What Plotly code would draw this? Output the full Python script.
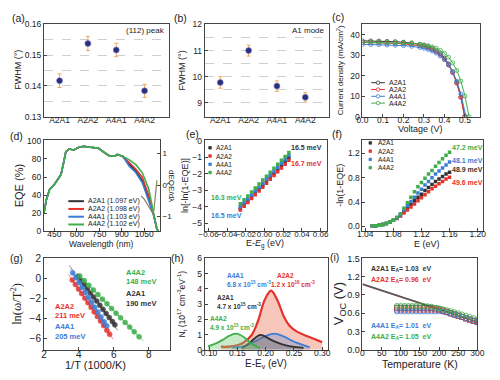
import plotly.graph_objects as go

W, H = 500, 380
def X(px): return px / W
def Y(py): return 1 - py / H

samples = ["A2A1", "A2A2", "A4A1", "A4A2"]
c_black, c_red, c_blue, c_green = "#333333", "#e5322d", "#3b7dd8", "#3dae4a"
scol = [c_black, c_red, c_blue, c_green]

# (a) XRD (112) peak FWHM
xrd_fwhm = [0.1417, 0.1538, 0.1517, 0.1384]
xrd_err = [0.0022, 0.0023, 0.0022, 0.0021]
# (b) Raman A1 mode FWHM
raman_fwhm = [9.78, 11.00, 9.64, 9.21]
raman_err = [0.22, 0.21, 0.20, 0.18]

# (c) J-V curves
jv_v = {
    "A2A1": [0, 0.04, 0.08, 0.12, 0.16, 0.20, 0.24, 0.28, 0.30, 0.32, 0.34, 0.36, 0.38, 0.40, 0.42, 0.44, 0.46, 0.48, 0.50],
    "A2A2": [0, 0.04, 0.08, 0.12, 0.16, 0.20, 0.24, 0.28, 0.30, 0.32, 0.34, 0.36, 0.38, 0.40, 0.42, 0.44, 0.46, 0.48, 0.498],
    "A4A1": [0, 0.04, 0.08, 0.12, 0.16, 0.20, 0.24, 0.28, 0.30, 0.32, 0.34, 0.36, 0.38, 0.40, 0.42, 0.44, 0.46, 0.48, 0.505],
    "A4A2": [0, 0.04, 0.08, 0.12, 0.16, 0.20, 0.24, 0.28, 0.30, 0.32, 0.34, 0.36, 0.38, 0.40, 0.42, 0.44, 0.46, 0.48, 0.50, 0.52],
}
jv_j = {
    "A2A1": [37.0, 36.94, 36.88, 36.71, 36.58, 36.33, 35.98, 35.34, 34.87, 34.22, 33.39, 32.23, 30.67, 28.57, 25.75, 21.91, 16.70, 9.61, 0],
    "A2A2": [36.2, 36.14, 36.08, 35.91, 35.78, 35.54, 35.19, 34.56, 34.11, 33.47, 32.66, 31.52, 30.00, 27.95, 25.18, 21.43, 16.33, 9.40, 0],
    "A4A1": [35.3, 35.24, 35.18, 35.01, 34.88, 34.69, 34.35, 33.80, 33.35, 32.80, 32.04, 31.04, 29.66, 27.79, 25.31, 21.89, 17.31, 11.07, 0],
    "A4A2": [36.4, 36.34, 36.28, 36.22, 36.09, 35.92, 35.72, 35.33, 35.01, 34.63, 34.10, 33.39, 32.35, 30.97, 29.03, 26.30, 22.57, 17.38, 10.09, 0],
}

# (d) EQE spectra
eqe_wl = [380, 396, 417, 450, 483, 494, 510, 526, 548, 580, 613, 646, 689, 743, 776, 820, 852, 870, 885, 906, 950, 993, 1037, 1080, 1113, 1135, 1146]
eqe_common = [20, 35, 46, 52, 60, 63, 75, 88, 91, 90, 93, 94, 93, 92, 88, 83, 83, 85, 84, 83]
eqe_tail = {
    "A2A1": [74, 67, 56, 36, 18, 2, 0],
    "A2A2": [76, 69, 60, 40, 19, 3, 0],
    "A4A1": [72, 65, 54, 33, 18, 2, 0],
    "A4A2": [79, 74, 65, 47, 20, 3, 0],
}
eg_labels = ["A2A1 (1.097 eV)", "A2A2 (1.098 eV)", "A4A1 (1.103 eV)", "A4A2 (1.102 eV)"]
deriv_wl = [1030, 1050, 1070, 1090, 1105, 1115, 1125, 1135]
deriv_val = [-0.35, -0.45, -0.60, -0.75, -0.88, -0.80, -0.30, 0.15]

# (e) Urbach plot
urb_x = [-0.026, -0.022, -0.018, -0.014, -0.010, -0.006, -0.002, 0.002, 0.006, 0.010, 0.014, 0.018, 0.022, 0.026]
urb_y = {
    "A2A1": [-4.09, -3.85, -3.62, -3.38, -3.15, -2.91, -2.68, -2.44, -2.21, -1.97, -1.74, -1.50, -1.27, -1.03],
    "A2A2": [-4.19, -3.96, -3.73, -3.49, -3.26, -3.03, -2.80, -2.57, -2.33, -2.10, -1.87, -1.64, -1.41, -1.18],
    "A4A1": [-3.99, -3.75, -3.51, -3.28, -3.04, -2.80, -2.56, -2.32, -2.09, -1.85, -1.61, -1.37, -1.13, -0.89],
    "A4A2": [-3.80, -3.56, -3.33, -3.09, -2.85, -2.61, -2.37, -2.14, -1.90, -1.66, -1.42, -1.18, -0.94, -0.70],
}

# (f) -ln(1-EQE)
abs_e = [1.050, 1.055, 1.060, 1.065, 1.070, 1.075, 1.080, 1.085, 1.090, 1.095, 1.100, 1.105, 1.110,
         1.115, 1.120, 1.125, 1.130, 1.135, 1.140, 1.145, 1.150, 1.155, 1.160]
abs_y = {
    "A2A1": [0.01, 0.01, 0.02, 0.03, 0.05, 0.07, 0.10, 0.14, 0.18, 0.24, 0.30, 0.36, 0.42, 0.48, 0.53, 0.59, 0.64, 0.69, 0.74, 0.78, 0.82, 0.86, 0.89],
    "A2A2": [0.01, 0.01, 0.02, 0.03, 0.05, 0.07, 0.10, 0.13, 0.17, 0.22, 0.27, 0.32, 0.37, 0.42, 0.47, 0.52, 0.57, 0.62, 0.66, 0.70, 0.74, 0.78, 0.81],
    "A4A1": [0.01, 0.01, 0.02, 0.03, 0.05, 0.07, 0.10, 0.14, 0.19, 0.27, 0.34, 0.41, 0.48, 0.55, 0.61, 0.68, 0.74, 0.80, 0.86, 0.91, 0.96, 1.01, 1.06],
    "A4A2": [0.01, 0.01, 0.02, 0.03, 0.05, 0.07, 0.10, 0.15, 0.21, 0.30, 0.39, 0.48, 0.57, 0.65, 0.72, 0.79, 0.86, 0.92, 0.99, 1.05, 1.11, 1.17, 1.22],
}

# (g) Arrhenius plot of admittance
arr_x = {
    "A2A1": [3.94, 4.12, 4.30, 4.48, 4.66, 4.84, 5.02, 5.20, 5.38, 5.56, 5.74, 5.92, 6.06],
    "A2A2": [3.62, 3.80, 3.98, 4.16, 4.34, 4.52, 4.70, 4.88, 5.06, 5.24, 5.42, 5.60, 5.76],
    "A4A1": [3.65, 3.83, 4.01, 4.19, 4.37, 4.55, 4.73, 4.91, 5.09, 5.27, 5.45, 5.60],
    "A4A2": [4.05, 4.31, 4.57, 4.83, 5.09, 5.35, 5.61, 5.87, 6.13, 6.39, 6.65, 6.91, 7.17, 7.45],
}
arr_y = {
    "A2A1": [0.20, -0.21, -0.62, -1.04, -1.45, -1.86, -2.27, -2.68, -3.10, -3.51, -3.92, -4.33, -4.65],
    "A2A2": [-0.15, -0.61, -1.07, -1.52, -1.98, -2.44, -2.90, -3.36, -3.81, -4.27, -4.73, -5.19, -5.60],
    "A4A1": [0.55, 0.06, -0.43, -0.92, -1.41, -1.90, -2.39, -2.88, -3.37, -3.86, -4.35, -4.75],
    "A4A2": [0.25, -0.22, -0.68, -1.15, -1.62, -2.08, -2.55, -3.01, -3.48, -3.95, -4.41, -4.88, -5.35, -5.85],
}
fit_x = {"A2A1": [3.45, 6.50], "A2A2": [3.40, 5.95], "A4A1": [3.50, 5.80], "A4A2": [3.90, 7.70]}
fit_y = {"A2A1": [1.30, -5.87], "A2A2": [0.41, -6.08], "A4A1": [0.96, -5.30], "A4A2": [0.52, -6.30]}

# (h) defect density of states
dos_x = {
    "A2A2": [0.121, 0.140, 0.160, 0.1754, 0.187, 0.198, 0.2097, 0.221, 0.2326, 0.244, 0.2554, 0.2726, 0.290, 0.300],
    "A4A1": [0.141, 0.164, 0.181, 0.198, 0.2154, 0.2326, 0.2497, 0.2669, 0.278],
    "A2A1": [0.158, 0.1697, 0.181, 0.190, 0.198, 0.2097, 0.2269, 0.244, 0.267],
    "A4A2": [0.098, 0.1126, 0.124, 0.1354, 0.147, 0.1554, 0.164, 0.1754, 0.190],
}
dos_y = {
    "A2A2": [0.20, 0.22, 0.45, 0.97, 1.94, 3.24, 3.89, 3.24, 2.16, 1.51, 1.19, 0.90, 0.65, 0.50],
    "A4A1": [0.15, 0.26, 0.54, 0.86, 1.06, 0.86, 0.54, 0.30, 0.17],
    "A2A1": [0.10, 0.39, 0.76, 0.97, 0.90, 0.65, 0.39, 0.22, 0.13],
    "A4A2": [0.22, 0.43, 0.65, 0.91, 1.06, 0.97, 0.76, 0.39, 0.11],
}
dos_fill = {"A2A2": "rgba(240,130,105,0.45)", "A4A1": "rgba(110,150,210,0.40)",
            "A2A1": "rgba(110,110,110,0.40)", "A4A2": "rgba(120,200,120,0.40)"}

# (i) Voc vs temperature
temp = [90, 100, 110, 120, 130, 140, 150, 160, 170, 180, 190, 200, 210, 220, 230, 240, 250, 260, 270, 280, 290, 300]
voc = {
    "A2A1": [0.69, 0.69, 0.69, 0.69, 0.69, 0.69, 0.69, 0.69, 0.69, 0.69, 0.68, 0.665, 0.645, 0.625, 0.60, 0.58, 0.56, 0.54, 0.515, 0.495, 0.475, 0.455],
    "A2A2": [0.66, 0.66, 0.66, 0.66, 0.66, 0.66, 0.66, 0.66, 0.66, 0.66, 0.66, 0.655, 0.64, 0.62, 0.60, 0.58, 0.56, 0.54, 0.515, 0.495, 0.475, 0.46],
    "A4A1": [0.63, 0.63, 0.63, 0.63, 0.63, 0.63, 0.63, 0.63, 0.63, 0.63, 0.63, 0.63, 0.625, 0.61, 0.595, 0.575, 0.56, 0.54, 0.52, 0.50, 0.48, 0.465],
    "A4A2": [0.72, 0.72, 0.72, 0.72, 0.72, 0.72, 0.72, 0.72, 0.715, 0.705, 0.69, 0.68, 0.665, 0.65, 0.635, 0.615, 0.60, 0.58, 0.56, 0.54, 0.52, 0.50],
}
voc_fit_t = [0, 300]
voc_fit = {"A2A2": [1.07, 0.46], "A2A1": [1.08, 0.455]}
ea_labels = ["A2A1 E<sub>A</sub>= 1.03  eV", "A2A2 E<sub>A</sub>= 0.96  eV",
             "A4A1 E<sub>A</sub>= 1.01  eV", "A4A2 E<sub>A</sub>= 1.05  eV"]

FONT = "Liberation Sans, Arial, sans-serif"
fig = go.Figure()

# ---- traces
fig.add_trace(go.Scatter(x=samples, y=xrd_fwhm, mode="markers", xaxis="x", yaxis="y",
                         marker=dict(color="#2b2d7e", size=6, line=dict(color="#7f83c9", width=0.6)),
                         error_y=dict(type="data", array=xrd_err, color="#f2a55a", thickness=1, width=2)))
fig.add_trace(go.Scatter(x=samples, y=raman_fwhm, mode="markers", xaxis="x2", yaxis="y2",
                         marker=dict(color="#2b2d7e", size=6, line=dict(color="#7f83c9", width=0.6)),
                         error_y=dict(type="data", array=raman_err, color="#f2a55a", thickness=1, width=2)))

for s, c in zip(samples, scol):
    fig.add_trace(go.Scatter(x=jv_v[s], y=jv_j[s], mode="lines+markers", xaxis="x3", yaxis="y3",
                             line=dict(color=c, width=1),
                             marker=dict(symbol="circle-open", size=4, color=c, line=dict(width=0.8))))

for s, c in zip(samples, scol):
    fig.add_trace(go.Scatter(x=eqe_wl, y=eqe_common + eqe_tail[s], mode="lines", xaxis="x4", yaxis="y4",
                             line=dict(color=c, width=1.6)))
fig.add_trace(go.Scatter(x=deriv_wl, y=deriv_val, mode="lines", xaxis="x4", yaxis="y10",
                         line=dict(color="#8c7f5c", width=1.2)))

for s, c in zip(samples, scol):
    fig.add_trace(go.Scatter(x=urb_x, y=urb_y[s], mode="markers", xaxis="x5", yaxis="y5",
                             marker=dict(color=c, size=3.5, symbol="square")))

for s, c in zip(samples, scol):
    fig.add_trace(go.Scatter(x=abs_e, y=abs_y[s], mode="markers", xaxis="x6", yaxis="y6",
                             marker=dict(color=c, size=3.5, symbol="square")))

for s, c in zip(samples, scol):
    fig.add_trace(go.Scatter(x=fit_x[s], y=fit_y[s], mode="lines", xaxis="x7", yaxis="y7",
                             line=dict(color=c, width=0.8, dash="dash"), opacity=0.7))
for s, c in zip(samples, scol):
    fig.add_trace(go.Scatter(x=arr_x[s], y=arr_y[s], mode="lines+markers", xaxis="x7", yaxis="y7",
                             line=dict(color=c, width=1),
                             marker=dict(color=c, size=5, opacity=0.85, line=dict(color=c, width=0.6))))

dos_colors = {"A2A2": c_red, "A4A1": c_blue, "A2A1": c_black, "A4A2": c_green}
for s in ["A2A2", "A4A1", "A2A1", "A4A2"]:
    fig.add_trace(go.Scatter(x=dos_x[s], y=dos_y[s], mode="lines", xaxis="x8", yaxis="y8",
                             line=dict(color=dos_colors[s], width=2.2 if s == "A2A2" else 1.8, shape="spline"),
                             fill="tozeroy", fillcolor=dos_fill[s]))

fig.add_trace(go.Scatter(x=voc_fit_t, y=voc_fit["A2A2"], mode="lines", xaxis="x9", yaxis="y9",
                         line=dict(color="#c87a7a", width=1.5)))
fig.add_trace(go.Scatter(x=voc_fit_t, y=voc_fit["A2A1"], mode="lines", xaxis="x9", yaxis="y9",
                         line=dict(color="#555555", width=1.5)))
sym_i = {"A2A1": "square-open", "A2A2": "square-open", "A4A1": "circle-open", "A4A2": "circle-open"}
for s, c in zip(samples, scol):
    fig.add_trace(go.Scatter(x=temp, y=voc[s], mode="markers", xaxis="x9", yaxis="y9",
                             marker=dict(color=c, size=5, symbol=sym_i[s], line=dict(width=0.8))))

# ---- axes
def tf(size):
    return dict(family=FONT, size=size, color="#222")

def axis_style(**kw):
    d = dict(showline=True, linecolor="#444", linewidth=1, mirror=True, ticks="inside", ticklen=3,
             tickcolor="#444", tickfont=tf(8.5), zeroline=False, showgrid=False)
    d.update(kw)
    return d

boxes = {
    1: (39, 167, 19, 114), 2: (204, 332, 19, 114), 3: (366, 487, 19, 114),
    4: (39, 158, 138, 232), 5: (204, 330, 138, 232), 6: (366, 490, 138, 232),
    7: (39, 168, 260, 354), 8: (204, 331, 260, 354), 9: (366, 484, 260, 354),
}
xcfg = {
    1: dict(type="category", range=[-0.55, 3.85], ticks=""),
    2: dict(type="category", range=[-0.55, 3.85], ticks=""),
    3: dict(range=[0, 0.575], dtick=0.1, tick0=0, tickformat=".1f"),
    4: dict(range=[380, 1155], tickvals=[450, 600, 750, 900, 1050]),
    5: dict(range=[-0.0642, 0.0673], tickvals=[-0.06, -0.04, -0.02, 0, 0.02, 0.04, 0.06], tickformat=".2f",
            tickfont=tf(8)),
    6: dict(range=[1.036, 1.208], tickvals=[1.04, 1.08, 1.12, 1.16, 1.20], tickformat=".2f"),
    7: dict(range=[2, 9.2], tickvals=[2, 4, 6, 8], tickfont=tf(10)),
    8: dict(range=[0.0923, 0.311], tickvals=[0.10, 0.15, 0.20, 0.25, 0.30], tickformat=".2f"),
    9: dict(range=[0, 300], dtick=50, tickfont=tf(8.5)),
}
for n in xcfg:
    xcfg[n]["ticklabelstandoff"] = -5
    xcfg[n]["tickangle"] = 0
grid = dict(showgrid=True, gridcolor="#cfcfcf", griddash="dash", gridwidth=0.8)
ycfg = {
    1: dict(range=[0.13, 0.16], dtick=0.01, tick0=0.13, tickformat=".2f", **grid,
            minor=dict(dtick=0.005, tick0=0.13, showgrid=True, gridcolor="#cfcfcf", griddash="dash", ticks="")),
    2: dict(range=[8.47, 12], dtick=1, tick0=9, **grid,
            minor=dict(dtick=0.5, tick0=9, showgrid=True, gridcolor="#cfcfcf", griddash="dash", ticks="")),
    3: dict(range=[0, 45], dtick=10),
    4: dict(range=[0, 101], dtick=20),
    5: dict(range=[-5.47, 0.05], dtick=1),
    6: dict(range=[-0.08, 1.42], tickvals=[0, 0.4, 0.8, 1.2], tickformat=".1f"),
    7: dict(range=[-7.15, 2], tickvals=[-6, -4, -2, 0, 2], tickfont=tf(10)),
    8: dict(range=[0, 6], dtick=1),
    9: dict(range=[0, 1.5], dtick=0.3, tickformat=".1f", tickfont=tf(9)),
}
layout_axes = {}
for n, (l, r, t, b) in boxes.items():
    sfx = "" if n == 1 else str(n)
    layout_axes["xaxis" + sfx] = axis_style(domain=[X(l), X(r)], anchor="y" + sfx, **xcfg[n])
    layout_axes["yaxis" + sfx] = axis_style(domain=[Y(b), Y(t)], anchor="x" + sfx, **ycfg[n])
layout_axes["yaxis10"] = axis_style(overlaying="y4", side="right", anchor="x4", range=[-1.47, 1.43],
                                    tickvals=[-1, 0, 1], mirror=False, tickfont=tf(8))

# ---- annotations
ann = []
def txt(x, y, s, size=9, color="#222", bold=False, xanchor="center", angle=0, family=FONT):
    if bold:
        s = "<b>" + s + "</b>"
    ann.append(dict(x=X(x), y=Y(y), xref="paper", yref="paper", text=s, showarrow=False,
                    xanchor=xanchor, yanchor="middle", textangle=angle,
                    font=dict(family=family, size=size, color=color)))

# panel labels
for lab, (x, y) in zip("abcdefghi", [(13, 12), (179, 12), (341, 11), (11, 134), (191, 132),
                                     (340, 132), (11, 259), (176, 259), (337, 258)]):
    txt(x, y, "(" + lab + ")", size=10.5)

# axis titles
txt(12, 66, "FWHM (°)", 9, angle=-90)
txt(181, 66, "FWHM (°)", 9, angle=-90)
txt(343, 66, "Current density (mA/cm<sup>2</sup>)", 8, angle=-90)
txt(426, 127, "Voltage (V)", 9)
txt(13, 185, "EQE (%)", 11, angle=-90)
txt(170, 185, "dEQE/dλ", 8, angle=90)
txt(98, 245, "Wavelength (nm)", 8.5)
txt(183, 185, "ln[-ln(1-EQE)]", 9, angle=-90)
txt(266, 245, "E-<i>E</i><sub>g</sub> (eV)", 9)
txt(343, 185, "-ln(1-EQE)", 9, angle=-90)
txt(432, 245, "E (eV)", 9)
txt(10, 307, "ln(ω/T<sup>2</sup>)", 12.5, angle=-90, family="Liberation Serif, Times New Roman, serif")
txt(92, 370, "1/T (1000/K)", 11)
txt(180, 307, "N<sub>t</sub> (10<sup>17</sup> cm<sup>-3</sup>eV<sup>-1</sup>)", 8.5, angle=-90)
txt(267, 369, "E-E<sub>v</sub> (eV)", 10)
txt(342, 307, "V<sub>OC</sub> (V)", 13, angle=-90)
txt(425, 369, "Temperature (K)", 10.5)

# in-panel text
txt(165, 25, "(112) peak", 8, xanchor="right")
txt(330, 25, "A1 mode", 8, xanchor="right")

# (e) labels
txt(327, 146, "16.5 meV", 7, c_black, True, xanchor="right")
txt(327, 162, "16.7 meV", 7, c_red, True, xanchor="right")
txt(208, 197, "16.3 meV", 7, c_green, True, xanchor="left")
txt(208, 216, "16.5 meV", 7, c_blue, True, xanchor="left")
# (f) labels
for lab, c, y in zip(["47.2 meV", "48.1 meV", "48.9 meV", "49.6 meV"], [c_green, c_blue, c_black, c_red],
                     [145.5, 159, 168.5, 182]):
    txt(456, y, lab, 7, c, True, xanchor="left")
# (g) labels
txt(121, 274, "A4A2", 7.5, c_green, True, xanchor="left")
txt(121, 284, "148 meV", 7.5, c_green, True, xanchor="left")
txt(121, 296, "A2A1", 7.5, c_black, True, xanchor="left")
txt(121, 306, "190 meV", 7.5, c_black, True, xanchor="left")
txt(48, 309, "A2A2", 7.5, c_red, True, xanchor="left")
txt(48, 319, "211 meV", 7.5, c_red, True, xanchor="left")
txt(48, 330, "A4A1", 7.5, c_blue, True, xanchor="left")
txt(48, 340, "205 meV", 7.5, c_blue, True, xanchor="left")
# (h) labels
txt(225, 278, "A4A1", 6.5, c_blue, True, xanchor="left")
txt(225, 286.5, "6.8 x 10<sup>15</sup> cm<sup>-3</sup>", 6.5, c_blue, True, xanchor="left")
txt(276, 278, "A2A2", 6.5, c_red, True, xanchor="left")
txt(270, 286.5, "1.2 x 10<sup>16</sup> cm<sup>-3</sup>", 6.5, c_red, True, xanchor="left")
txt(215, 300, "A2A1", 6.5, c_black, True, xanchor="left")
txt(215, 308.5, "4.7 x 10<sup>15</sup> cm<sup>-3</sup>", 6.5, c_black, True, xanchor="left")
txt(207, 322, "A4A2", 6.5, c_green, True, xanchor="left")
txt(207, 330.5, "4.9 x 10<sup>15</sup> cm<sup>-3</sup>", 6.5, c_green, True, xanchor="left")
# (i) labels
for lab, c, y in zip(ea_labels, scol, [271, 282.5, 330, 341]):
    txt(373, y, lab, 7, c, True, xanchor="left")

# ---- hand-drawn legends
shapes = []
def hline(x0, x1, y, color, width):
    shapes.append(dict(type="line", xref="paper", yref="paper", x0=X(x0), x1=X(x1), y0=Y(y), y1=Y(y),
                       line=dict(color=color, width=width)))
def dot(x, y, color, r=1.6, filled=True, square=False):
    shapes.append(dict(type="rect" if square else "circle", xref="paper", yref="paper",
                       x0=X(x - r), x1=X(x + r), y0=Y(y + r), y1=Y(y - r),
                       line=dict(color=color, width=0.8), fillcolor=color if filled else "white"))

for s, c, y in zip(samples, scol, [79, 86, 93, 100]):
    hline(375, 389, y, c, 1)
    dot(382, y, c, 1.8, filled=False)
    txt(391, y, s, 7, xanchor="left")
for lab, c, y in zip(eg_labels, scol, [201, 209, 217, 225]):
    hline(64, 80, y, c, 2)
    txt(82, y, lab, 7, xanchor="left")
for s, c, y in zip(samples, scol, [146, 154.5, 163, 171.5]):
    dot(209.5, y, c, 1.3, square=True)
    txt(214, y, s, 6.5, xanchor="left")
for s, c, y in zip(samples, scol, [141, 149.5, 158, 166.5]):
    dot(374, y, c, 1.3, square=True)
    txt(380, y, s, 6.5, xanchor="left")

fig.update_layout(width=W, height=H, autosize=False, margin=dict(l=0, r=0, t=0, b=0),
                  paper_bgcolor="white", plot_bgcolor="white", showlegend=False,
                  annotations=ann, shapes=shapes, font=dict(family=FONT), **layout_axes)
fig.write_html("out.html", config={"displayModeBar": False},
               post_script="document.body.style.margin='0px';document.body.style.overflow='hidden';")
